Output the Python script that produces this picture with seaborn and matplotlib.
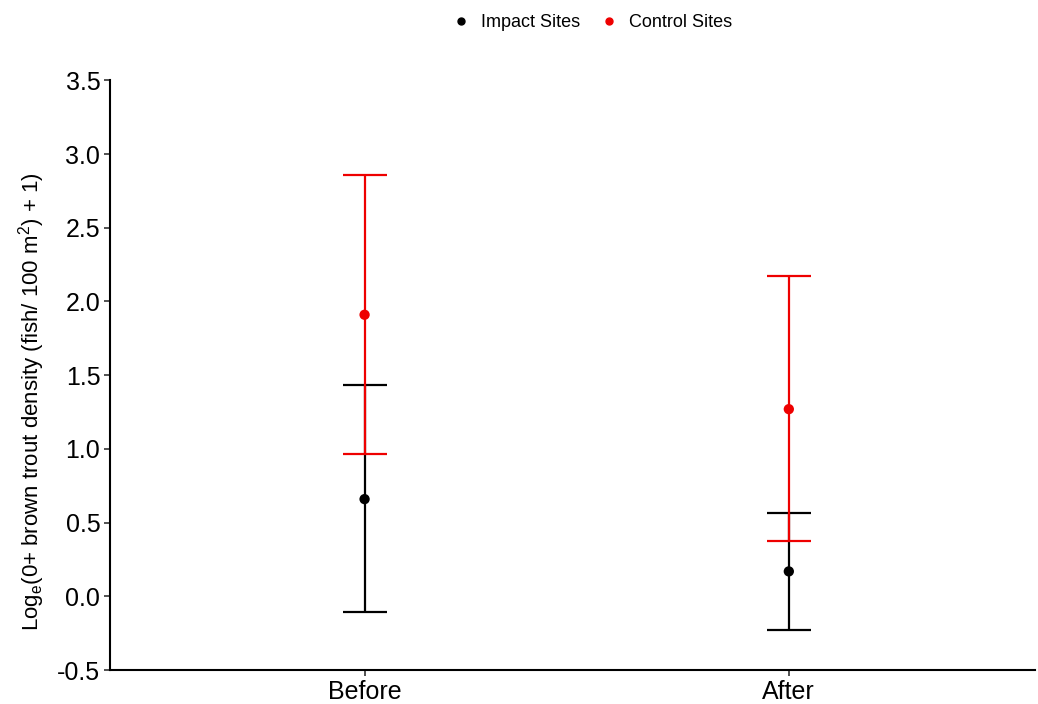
import numpy as np
import pandas as pd
import matplotlib
matplotlib.use('Agg')
import matplotlib.pyplot as plt
import seaborn as sns

sns.set_style('ticks')
plt.rcParams['font.family'] = ['Liberation Sans', 'DejaVu Sans']
plt.rcParams['mathtext.fontset'] = 'custom'
plt.rcParams['mathtext.rm'] = 'Liberation Sans'
plt.rcParams['mathtext.it'] = 'Liberation Sans:italic'
plt.rcParams['text.color'] = 'black'
plt.rcParams['axes.labelcolor'] = 'black'
plt.rcParams['xtick.color'] = 'black'
plt.rcParams['ytick.color'] = 'black'

periods = ['Before', 'After']
impact_mean = [0.66, 0.17]
impact_low = [-0.105, -0.225]
impact_high = [1.435, 0.565]
control_mean = [1.91, 1.27]
control_low = [0.967, 0.373]
control_high = [2.858, 2.176]

df = pd.DataFrame({
    'period': periods * 2,
    'site': ['Impact Sites'] * 2 + ['Control Sites'] * 2,
    'mean': impact_mean + control_mean,
    'low': impact_low + control_low,
    'high': impact_high + control_high,
})
colors = {'Impact Sites': 'black', 'Control Sites': '#ee0000'}

fig = plt.figure(figsize=(10.38, 7.04), dpi=100)
ax = fig.add_axes([0.106, 0.048, 0.891, 0.838])

for site in ['Impact Sites', 'Control Sites']:
    d = df[df['site'] == site]
    ax.errorbar(d['period'], d['mean'],
                yerr=[d['mean'] - d['low'], d['high'] - d['mean']],
                fmt='none', ecolor=colors[site], elinewidth=1.6,
                capsize=15.5, capthick=1.6, zorder=2)

sns.scatterplot(data=df, x='period', y='mean', hue='site', palette=colors,
                s=55, edgecolor='none', ax=ax, zorder=3, legend=False)

ax.set_xlim(-0.6, 1.58)
ax.set_ylim(-0.5, 3.5)
ax.set_yticks(np.arange(-0.5, 3.51, 0.5))
ax.set_yticklabels(['%.1f' % v for v in np.arange(-0.5, 3.51, 0.5)])
ax.set_xlabel('')
ax.set_ylabel(r'Log$_\mathrm{e}$(0+ brown trout density (fish/ 100 m$^2$) + 1)', fontsize=16)
ax.yaxis.set_label_coords(-0.068, 0.455)
ax.tick_params(axis='both', labelsize=18, length=4, width=1.2, color='#333333', pad=3)
sns.despine(ax=ax)
for s in ['left', 'bottom']:
    ax.spines[s].set_linewidth(1.5)
    ax.spines[s].set_color('black')

handles = [plt.Line2D([], [], marker='o', ls='', color=colors[k], markersize=5, label=k)
           for k in ['Impact Sites', 'Control Sites']]
fig.legend(handles=handles, loc='center', bbox_to_anchor=(0.566, 0.968), ncol=2,
           frameon=False, fontsize=13, handletextpad=0.1, columnspacing=0.6)

fig.savefig('out.png', dpi=100)
plt.close()
